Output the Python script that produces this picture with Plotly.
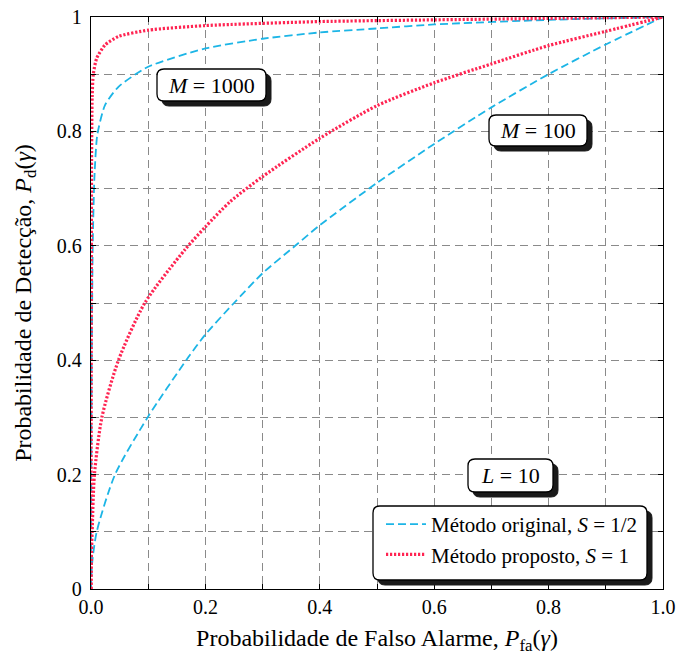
import plotly.graph_objects as go

# ---- data ----
pfa_orig_100 = [0.0, 0.002, 0.01, 0.042, 0.099, 0.17, 0.2, 0.25, 0.3, 0.357, 0.4, 0.5, 0.6, 0.7, 0.8, 0.9, 1.0]
pd_orig_100 = [0.0, 0.045, 0.1, 0.2, 0.3, 0.405, 0.445, 0.5, 0.552, 0.6, 0.636, 0.71, 0.778, 0.842, 0.9, 0.952, 1.0]

pfa_prop_100 = [0.0, 0.0005, 0.002, 0.006, 0.019, 0.048, 0.094, 0.164, 0.2, 0.243, 0.3, 0.4, 0.5, 0.6, 0.7, 0.8, 0.9, 1.0]
pd_prop_100 = [0.0, 0.05, 0.1, 0.2, 0.3, 0.4, 0.5, 0.593, 0.633, 0.677, 0.721, 0.788, 0.845, 0.885, 0.918, 0.95, 0.975, 1.0]

pfa_orig_1000 = [0.0, 0.001, 0.003, 0.006, 0.011, 0.0245, 0.048, 0.1, 0.2, 0.3, 0.4, 0.5, 0.6, 0.8, 1.0]
pd_orig_1000 = [0.0, 0.35, 0.6, 0.72, 0.794, 0.846, 0.878, 0.913, 0.945, 0.962, 0.973, 0.98, 0.987, 0.995, 1.0]

pfa_prop_1000 = [0.0, 0.0005, 0.001, 0.002, 0.004, 0.01, 0.0245, 0.048, 0.1, 0.2, 0.4, 0.6, 1.0]
pd_prop_1000 = [0.0, 0.5, 0.75, 0.86, 0.9, 0.928, 0.951, 0.966, 0.977, 0.985, 0.992, 0.995, 1.0]

x_tickvals = [0.0, 0.2, 0.4, 0.6, 0.8, 1.0]
x_ticktext = ["0.0", "0.2", "0.4", "0.6", "0.8", "1.0"]
y_tickvals = [0.0, 0.2, 0.4, 0.6, 0.8, 1.0]
y_ticktext = ["0", "0.2", "0.4", "0.6", "0.8", "1"]

legend_names = ["Método original, <i>S</i> = 1/2", "Método proposto, <i>S</i> = 1"]
labels = ["<i>M</i> = 1000", "<i>M</i> = 100", "<i>L</i> = 10"]

BLUE = "#1CB5E6"
RED = "#FF2452"
FONT = "Liberation Serif, Times New Roman, DejaVu Serif, serif"

# plot geometry in pixels
W, H = 677, 659
L_, R_, T_, B_ = 91, 14, 17, 70
PW = W - L_ - R_
PH = H - T_ - B_

fig = go.Figure()

blue_line = dict(color=BLUE, width=1.8, dash="8px,4px")
red_line = dict(color=RED, width=3.2, dash="2.2px,1.8px")

fig.add_trace(go.Scatter(x=pfa_orig_100, y=pd_orig_100, mode="lines", line=dict(**blue_line, shape="spline", smoothing=0.7),
                         name=legend_names[0], legendgroup="o", showlegend=True))
fig.add_trace(go.Scatter(x=pfa_orig_1000, y=pd_orig_1000, mode="lines", line=dict(**blue_line, shape="spline", smoothing=0.6),
                         name=legend_names[0], legendgroup="o", showlegend=False))
fig.add_trace(go.Scatter(x=pfa_prop_100, y=pd_prop_100, mode="lines", line=dict(**red_line, shape="spline", smoothing=0.7),
                         name=legend_names[1], legendgroup="p", showlegend=True))
fig.add_trace(go.Scatter(x=pfa_prop_1000, y=pd_prop_1000, mode="lines", line=dict(**red_line, shape="spline", smoothing=0.6),
                         name=legend_names[1], legendgroup="p", showlegend=False))


def px2x(p):
    return (p - L_) / PW


def px2y(p):
    return (H - B_ - p) / PH


def rounded(x0p, y0p, x1p, y1p, r=7):
    # pixel box -> data-coordinate rounded rectangle path
    xa, xb = px2x(x0p), px2x(x1p)
    yt, yb = px2y(y0p), px2y(y1p)
    rx, ry = r / PW, r / PH
    return (f"M {xa+rx},{yt} L {xb-rx},{yt} Q {xb},{yt} {xb},{yt-ry} "
            f"L {xb},{yb+ry} Q {xb},{yb} {xb-rx},{yb} L {xa+rx},{yb} "
            f"Q {xa},{yb} {xa},{yb+ry} L {xa},{yt-ry} Q {xa},{yt} {xa+rx},{yt} Z")


boxes = [
    (157, 69, 266, 101),   # M=1000
    (489, 115, 587, 146),  # M=100
    (468, 459, 553, 492),  # L=10
    (373, 506, 647, 580),  # legend
]
SH = 5
for (a, b, c, d) in boxes:
    fig.add_shape(type="path", path=rounded(a + SH, b + SH, c + SH, d + SH), xref="x", yref="y",
                  fillcolor="#1a1a1a", line=dict(color="#1a1a1a", width=1), layer="above")
    fig.add_shape(type="path", path=rounded(a, b, c, d), xref="x", yref="y",
                  fillcolor="white", line=dict(color="black", width=1.3), layer="above")

for (a, b, c, d), txt in zip(boxes[:3], labels):
    fig.add_annotation(x=px2x((a + c) / 2), y=px2y((b + d) / 2), xref="x", yref="y", text=txt,
                       showarrow=False, font=dict(family=FONT, size=22, color="black"),
                       xanchor="center", yanchor="middle")

axis_common = dict(range=[0, 1], showline=True, linecolor="black", linewidth=1.3, mirror="ticks",
                   ticks="inside", ticklen=5, tickwidth=1, tickcolor="black",
                   showgrid=True, gridcolor="#8a8a8a", gridwidth=1.1, griddash="8px,5px",
                   zeroline=False, tickfont=dict(family=FONT, size=20, color="black"),
                   tickmode="array", automargin=False,
                   minor=dict(tick0=0, dtick=0.1, showgrid=True, gridcolor="#8a8a8a", gridwidth=1.1,
                              griddash="8px,5px", ticks="inside", ticklen=5, tickwidth=1, tickcolor="black"))

fig.update_xaxes(**axis_common, tickvals=x_tickvals, ticktext=x_ticktext,
                 title=dict(text="Probabilidade de Falso Alarme, <i>P</i><sub>fa</sub>(<i>γ</i>)",
                            font=dict(family=FONT, size=24, color="black"), standoff=12))
fig.update_yaxes(**axis_common, tickvals=y_tickvals, ticktext=y_ticktext, ticklabelstandoff=4,
                 title=dict(text="Probabilidade de Detecção, <i>P</i><sub>d</sub>(<i>γ</i>)",
                            font=dict(family=FONT, size=24, color="black"), standoff=18))

fig.update_layout(
    width=W, height=H,
    margin=dict(l=L_, r=R_, t=T_, b=B_, autoexpand=False),
    paper_bgcolor="white", plot_bgcolor="white",
    font=dict(family=FONT, color="black"),
    legend=dict(x=px2x(381), y=px2y(504), xref="paper", yref="paper", xanchor="left", yanchor="top",
                bgcolor="rgba(0,0,0,0)", borderwidth=0, font=dict(family=FONT, size=21, color="black"),
                itemwidth=40, tracegroupgap=0),
)

fig.write_html("out.html")
